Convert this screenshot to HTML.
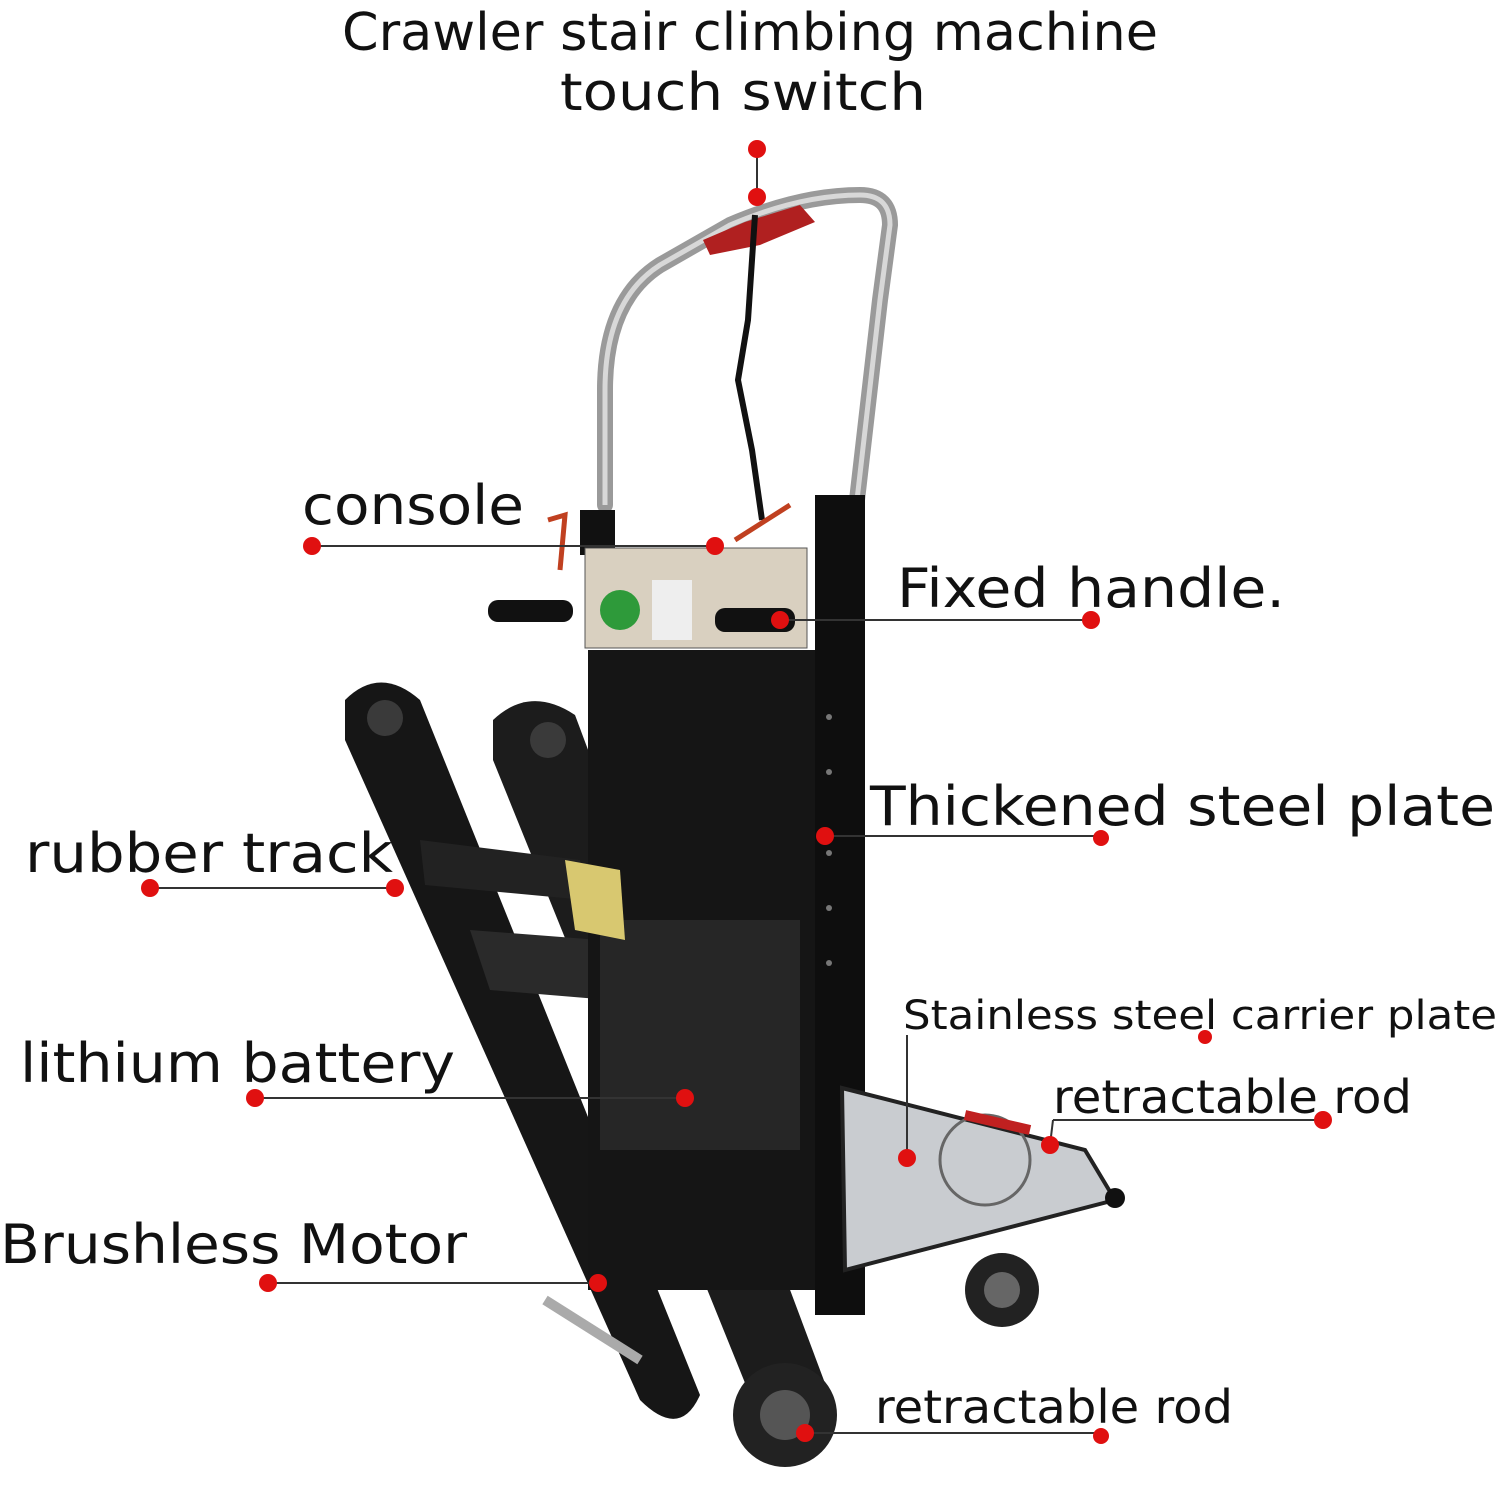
<!DOCTYPE html>
<html><head><meta charset="utf-8"><style>
html,body{margin:0;padding:0;background:#fff;}
svg{display:block}
text{font-family:"DejaVu Sans","Liberation Sans",sans-serif;fill:#111}
</style></head><body>
<svg width="1500" height="1488" viewBox="0 0 1500 1488" xmlns="http://www.w3.org/2000/svg">
<text x="342" y="50" font-size="52" textLength="816" lengthAdjust="spacingAndGlyphs">Crawler stair climbing machine</text>
<text x="560" y="110" font-size="52" textLength="366" lengthAdjust="spacingAndGlyphs">touch switch</text>
<line x1="757" y1="149" x2="757" y2="197" stroke="#333" stroke-width="2"/>

<path d="M605 505 L605 390 Q605 300 660 265 L730 225 Q800 195 860 195 Q890 195 890 225 L880 300 L857 500" fill="none" stroke="#9a9a9a" stroke-width="16" stroke-linecap="round"/>
<path d="M605 505 L605 390 Q605 300 660 265 L730 225 Q800 195 860 195 Q890 195 890 225 L880 300 L857 500" fill="none" stroke="#d8d8d8" stroke-width="5"/>
<path d="M703 240 L745 222 L800 205 L815 222 L760 245 L710 255 Z" fill="#b02020"/>
<path d="M755 215 L748 320 L738 380 L752 450 L762 520" fill="none" stroke="#111" stroke-width="6"/>

<path d="M345 700 Q380 665 420 700 L700 1395 Q680 1440 640 1400 L345 740 Z" fill="#161616"/>
<path d="M493 720 Q530 685 575 715 L835 1410 Q800 1460 760 1420 L493 760 Z" fill="#1c1c1c"/>
<circle cx="385" cy="718" r="18" fill="#3a3a3a"/>
<circle cx="548" cy="740" r="18" fill="#3a3a3a"/>
<path d="M420 840 L580 860 L585 900 L425 885 Z" fill="#222"/>
<path d="M470 930 L600 940 L610 1000 L490 990 Z" fill="#2a2a2a"/>

<rect x="588" y="650" width="235" height="640" fill="#151515"/>
<rect x="600" y="920" width="200" height="230" fill="#262626"/>
<path d="M565 860 L620 870 L625 940 L575 930 Z" fill="#d8c870"/>
<rect x="815" y="495" width="50" height="820" fill="#0e0e0e"/>
<g fill="#777"><circle cx="829" cy="717" r="3"/><circle cx="829" cy="772" r="3"/><circle cx="829" cy="853" r="3"/><circle cx="829" cy="908" r="3"/><circle cx="829" cy="963" r="3"/></g>
<rect x="580" y="510" width="35" height="45" fill="#111"/>
<rect x="585" y="548" width="222" height="100" fill="#d9d0c0" stroke="#555"/>
<circle cx="620" cy="610" r="20" fill="#2e9a3a"/>
<rect x="652" y="580" width="40" height="60" fill="#eee"/>
<rect x="488" y="600" width="85" height="22" rx="10" fill="#111"/>
<rect x="715" y="608" width="80" height="24" rx="10" fill="#111"/>
<path d="M548 520 L565 515 L560 570" fill="none" stroke="#c04020" stroke-width="5"/>
<path d="M735 540 L790 505" fill="none" stroke="#c04020" stroke-width="5"/>

<path d="M842 1088 L1085 1150 L1115 1200 L845 1270 Z" fill="#c9ccd0" stroke="#222" stroke-width="4"/>
<circle cx="985" cy="1160" r="45" fill="none" stroke="#666" stroke-width="3"/>
<path d="M965 1115 L1030 1130" stroke="#c02020" stroke-width="10"/>
<circle cx="1115" cy="1198" r="10" fill="#111"/>
<circle cx="1002" cy="1290" r="37" fill="#222"/><circle cx="1002" cy="1290" r="18" fill="#666"/>
<path d="M545 1300 L640 1360" stroke="#aaa" stroke-width="10"/>
<circle cx="785" cy="1415" r="52" fill="#222"/><circle cx="785" cy="1415" r="25" fill="#555"/>

<g stroke="#333" stroke-width="2" fill="none">
<line x1="312" y1="546" x2="715" y2="546"/>
<line x1="780" y1="620" x2="1091" y2="620"/>
<line x1="825" y1="836" x2="1101" y2="836"/>
<line x1="150" y1="888" x2="395" y2="888"/>
<line x1="255" y1="1098" x2="685" y2="1098"/>
<line x1="268" y1="1283" x2="598" y2="1283"/>
<line x1="907" y1="1035" x2="907" y2="1158"/>
<line x1="1053" y1="1120" x2="1323" y2="1120"/>
<line x1="1053" y1="1120" x2="1050" y2="1145"/>
<line x1="805" y1="1433" x2="1101" y2="1433"/>
</g>
<g fill="#e01010">
<circle cx="757" cy="149" r="9"/><circle cx="757" cy="197" r="9"/>
<circle cx="312" cy="546" r="9"/><circle cx="715" cy="546" r="9"/>
<circle cx="780" cy="620" r="9"/><circle cx="1091" cy="620" r="9"/>
<circle cx="825" cy="836" r="9"/><circle cx="1101" cy="838" r="8"/>
<circle cx="150" cy="888" r="9"/><circle cx="395" cy="888" r="9"/>
<circle cx="255" cy="1098" r="9"/><circle cx="685" cy="1098" r="9"/>
<circle cx="268" cy="1283" r="9"/><circle cx="598" cy="1283" r="9"/>
<circle cx="907" cy="1158" r="9"/><circle cx="1205" cy="1037" r="7"/>
<circle cx="1050" cy="1145" r="9"/><circle cx="1323" cy="1120" r="9"/>
<circle cx="805" cy="1433" r="9"/><circle cx="1101" cy="1436" r="8"/>
</g>
<text x="302" y="524" font-size="54" textLength="222" lengthAdjust="spacingAndGlyphs">console</text>
<text x="897" y="607" font-size="54" textLength="388" lengthAdjust="spacingAndGlyphs">Fixed handle.</text>
<text x="870" y="825" font-size="54" textLength="625" lengthAdjust="spacingAndGlyphs">Thickened steel plate</text>
<text x="25" y="872" font-size="54" textLength="368" lengthAdjust="spacingAndGlyphs">rubber track</text>
<text x="20" y="1082" font-size="54" textLength="435" lengthAdjust="spacingAndGlyphs">lithium battery</text>
<text x="0" y="1263" font-size="54" textLength="467" lengthAdjust="spacingAndGlyphs">Brushless Motor</text>
<text x="903" y="1029" font-size="40" textLength="594" lengthAdjust="spacingAndGlyphs">Stainless steel carrier plate</text>
<text x="1053" y="1113" font-size="46" textLength="359" lengthAdjust="spacingAndGlyphs">retractable  rod</text>
<text x="875" y="1423" font-size="46" textLength="358" lengthAdjust="spacingAndGlyphs">retractable   rod</text>
</svg>
</body></html>
